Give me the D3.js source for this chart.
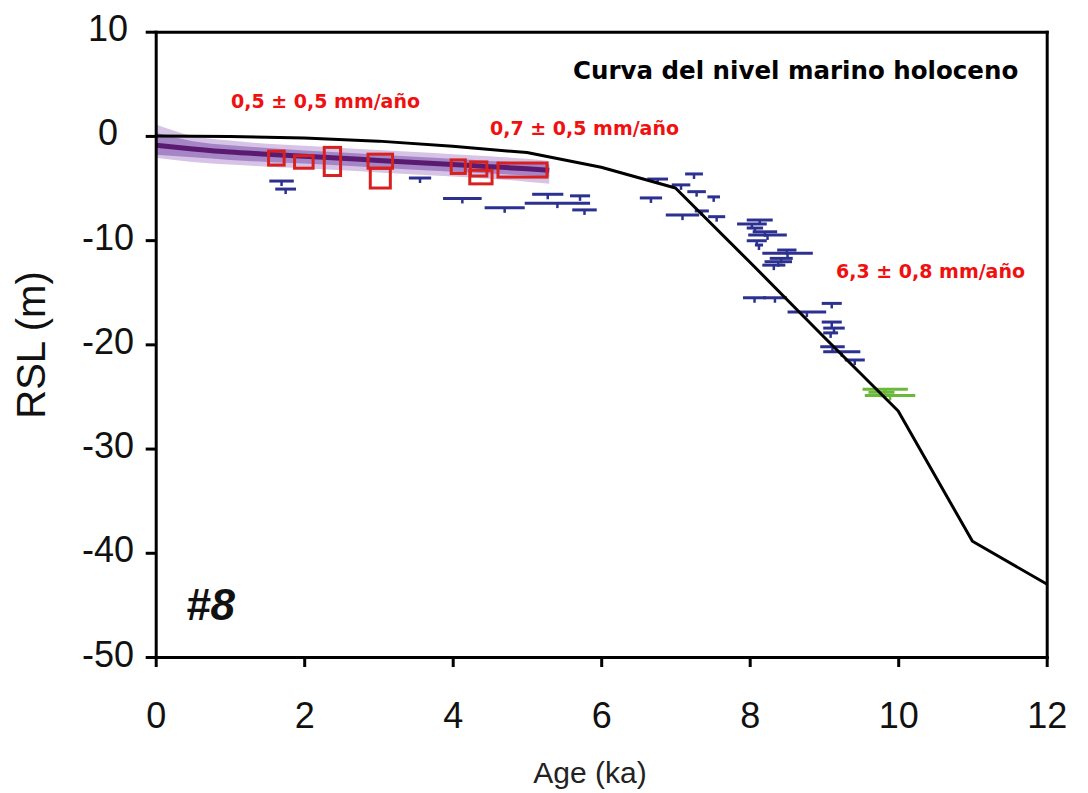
<!DOCTYPE html>
<html>
<head>
<meta charset="utf-8">
<script src="https://cdn.jsdelivr.net/npm/d3@7"></script>
<style>
  body { margin: 0; background: #fff; }
  svg { display: block; }
</style>
</head>
<body>
<div class="container"></div>
<script>
// Holocene sea-level curve (age in ka, RSL in m)
const curveAge = [0, 1, 2, 3, 4, 5, 6, 7, 8, 9, 10, 11, 12];
const curveRsl = [0, -0.05, -0.2, -0.5, -1.0, -1.6, -3.0, -5.0, -12.1, -19.3, -26.4, -38.9, -43.0];

// purple model band
const bandAge     = [0, 0.5, 1, 1.5, 2, 2.5, 3, 3.5, 4, 4.5, 5, 5.3];
const bandMean    = [-0.9, -1.25, -1.55, -1.75, -1.95, -2.15, -2.35, -2.55, -2.75, -2.95, -3.15, -3.3];
const bandOuterHi = [1.1, 0.0, -0.45, -0.75, -0.95, -1.15, -1.35, -1.55, -1.75, -1.95, -2.2, -2.4];
const bandOuterLo = [-2.1, -2.5, -2.75, -2.95, -3.1, -3.3, -3.5, -3.7, -3.9, -4.1, -4.4, -4.6];
const bandInnerHi = [0.3, -0.5, -0.9, -1.15, -1.4, -1.6, -1.8, -2.0, -2.2, -2.4, -2.6, -2.75];
const bandInnerLo = [-1.8, -2.05, -2.3, -2.5, -2.65, -2.85, -3.05, -3.25, -3.45, -3.6, -3.8, -3.9];

// red boxes: [age start, age end, top, bottom]
const redBoxes = [
  [1.52, 1.73, -1.45, -2.8],
  [1.87, 2.12, -1.9, -3.1],
  [2.27, 2.49, -1.1, -3.8],
  [2.86, 3.19, -1.75, -3.1],
  [2.89, 3.16, -3.1, -5.0],
  [3.98, 4.17, -2.3, -3.6],
  [4.24, 4.46, -2.5, -3.85],
  [4.23, 4.53, -3.3, -4.6],
  [4.61, 5.27, -2.6, -3.95]
];

// blue index points: [age start, age end, rsl]
const bluePts = [
  [1.53, 1.86, -4.33], [1.61, 1.89, -5.1], [3.41, 3.71, -4.04], [3.87, 4.39, -6.0],
  [4.43, 4.97, -6.9], [4.97, 5.85, -6.45], [5.07, 5.49, -5.6], [5.58, 5.85, -5.75],
  [5.61, 5.94, -7.1], [7.13, 7.37, -3.65], [6.62, 6.9, -4.14], [6.95, 7.2, -4.7],
  [7.16, 7.41, -5.35], [7.43, 7.6, -5.85], [6.52, 6.82, -5.95], [7.26, 7.45, -7.2],
  [6.87, 7.32, -7.6], [7.44, 7.67, -7.75], [7.96, 8.31, -8.07], [7.83, 8.23, -8.45],
  [7.96, 8.18, -8.84], [8.04, 8.37, -9.2], [7.98, 8.5, -9.5], [7.96, 8.23, -10.06],
  [8.07, 8.18, -10.47], [8.37, 8.63, -10.95], [8.17, 8.85, -11.27], [8.27, 8.58, -11.75],
  [8.2, 8.57, -12.07], [8.17, 8.48, -12.4], [7.91, 8.22, -15.53], [8.18, 8.5, -15.53],
  [8.97, 9.24, -16.07], [8.51, 9.03, -16.9], [8.97, 9.24, -17.86], [8.99, 9.28, -18.44],
  [8.99, 9.19, -18.9], [8.95, 9.28, -20.23], [8.99, 9.49, -20.71], [9.28, 9.55, -21.5]
];

// green points
const greenPts = [[9.52, 10.13, -24.3], [9.55, 10.23, -24.9], [9.6, 9.95, -24.6]];

const xTicks = [0, 2, 4, 6, 8, 10, 12];
const yTicks = [-50, -40, -30, -20, -10, 0, 10];

const w = 1088, h = 793;
const svg = d3.select('.container').append('svg')
  .attr('width', w).attr('height', h);

const x = d3.scaleLinear().domain([0, 12]).range([155.7, 1046.7]);
const y = d3.scaleLinear().domain([-50, 10]).range([657, 31.7]);

const band = bandAge.map((a, i) => ({
  age: a, mean: bandMean[i],
  oh: bandOuterHi[i], ol: bandOuterLo[i],
  ih: bandInnerHi[i], il: bandInnerLo[i]
}));

const area = (lo, hi) => d3.area()
  .x(d => x(d.age)).y0(d => y(d[lo])).y1(d => y(d[hi]))
  .curve(d3.curveMonotoneX);

svg.append('path').datum(band).attr('d', area('ol', 'oh')).attr('fill', '#d6c3e6');
svg.append('path').datum(band).attr('d', area('il', 'ih')).attr('fill', '#a585c6');
svg.append('path').datum(band)
  .attr('d', d3.line().x(d => x(d.age)).y(d => y(d.mean)).curve(d3.curveMonotoneX))
  .attr('fill', 'none').attr('stroke', '#5a1a70').attr('stroke-width', 5);

// red boxes
svg.selectAll('rect.box').data(redBoxes).enter().append('rect')
  .attr('class', 'box')
  .attr('x', d => x(d[0])).attr('width', d => x(d[1]) - x(d[0]))
  .attr('y', d => y(d[2])).attr('height', d => y(d[3]) - y(d[2]))
  .attr('fill', 'none').attr('stroke', '#d8211f').attr('stroke-width', 3);

// error bars
function bars(data, color, cls) {
  const g = svg.append('g').attr('class', cls)
    .attr('stroke', color).attr('stroke-width', 3);
  g.selectAll('line.h').data(data).enter().append('line')
    .attr('x1', d => x(d[0])).attr('x2', d => x(d[1]))
    .attr('y1', d => y(d[2])).attr('y2', d => y(d[2]));
  g.selectAll('line.v').data(data).enter().append('line')
    .attr('stroke-width', 2.5)
    .attr('x1', d => x((d[0] + d[1]) / 2)).attr('x2', d => x((d[0] + d[1]) / 2))
    .attr('y1', d => y(d[2])).attr('y2', d => y(d[2]) + 5);
}
bars(bluePts, '#2c3190', 'blue');
bars(greenPts, '#6bb83a', 'green');

// main curve
svg.append('path')
  .datum(curveAge.map((a, i) => [a, curveRsl[i]]))
  .attr('d', d3.line().x(d => x(d[0])).y(d => y(d[1])))
  .attr('fill', 'none').attr('stroke', '#000').attr('stroke-width', 3)
  .attr('stroke-linejoin', 'round');

// axes
const font = "'Liberation Sans', Arial, sans-serif";
const plain = d => String(d);

const xAxis = svg.append('g')
  .attr('transform', 'translate(0,' + y(-50) + ')')
  .call(d3.axisBottom(x).tickValues(xTicks).tickFormat(plain).tickSize(10).tickSizeOuter(0));

const yAxis = svg.append('g')
  .attr('transform', 'translate(' + x(0) + ',0)')
  .call(d3.axisLeft(y).tickValues(yTicks).tickFormat(plain).tickSize(10).tickSizeOuter(0));

svg.append('g')
  .attr('transform', 'translate(0,' + y(10) + ')')
  .call(d3.axisTop(x).tickValues([]).tickSizeOuter(0));

svg.append('g')
  .attr('transform', 'translate(' + x(12) + ',0)')
  .call(d3.axisRight(y).tickValues([]).tickSizeOuter(0));

svg.selectAll('.domain').attr('stroke-width', 3).attr('stroke-linecap', 'square');
svg.selectAll('.tick line').attr('stroke-width', 3);

xAxis.selectAll('text')
  .attr('font-family', font).attr('font-size', 36).attr('fill', '#111')
  .attr('y', 71).attr('dy', 0);

yAxis.selectAll('text')
  .attr('font-family', font).attr('font-size', 36).attr('fill', '#111')
  .attr('text-anchor', 'middle')
  .attr('x', 108 - x(0)).attr('dy', 9);

// axis titles
svg.append('text')
  .attr('x', 590).attr('y', 783)
  .attr('text-anchor', 'middle')
  .attr('font-family', font).attr('font-size', 30).attr('fill', '#222')
  .text('Age (ka)');

svg.append('text')
  .attr('transform', 'translate(45,345) rotate(-90)')
  .attr('text-anchor', 'middle')
  .attr('font-family', font).attr('font-size', 40).attr('fill', '#111')
  .text('RSL (m)');

// annotations
const boldFont = "'DejaVu Sans', Verdana, sans-serif";
svg.append('text')
  .attr('x', 573).attr('y', 79)
  .attr('font-family', boldFont).attr('font-weight', 'bold').attr('font-size', 24.5)
  .text('Curva del nivel marino holoceno');

const rates = [
  { t: '0,5 \u00b1 0,5 mm/a\u00f1o', x: 231, y: 108 },
  { t: '0,7 \u00b1 0,5 mm/a\u00f1o', x: 490, y: 135 },
  { t: '6,3 \u00b1 0,8 mm/a\u00f1o', x: 836, y: 278 }
];
svg.selectAll('text.rate').data(rates).enter().append('text')
  .attr('class', 'rate')
  .attr('x', d => d.x).attr('y', d => d.y)
  .attr('font-family', boldFont).attr('font-weight', 'bold').attr('font-size', 19)
  .attr('fill', '#f01010')
  .text(d => d.t);

svg.append('text')
  .attr('x', 186).attr('y', 620)
  .attr('font-family', font).attr('font-weight', 'bold').attr('font-style', 'italic')
  .attr('font-size', 44).attr('fill', '#111')
  .text('#8');
</script>
</body>
</html>
